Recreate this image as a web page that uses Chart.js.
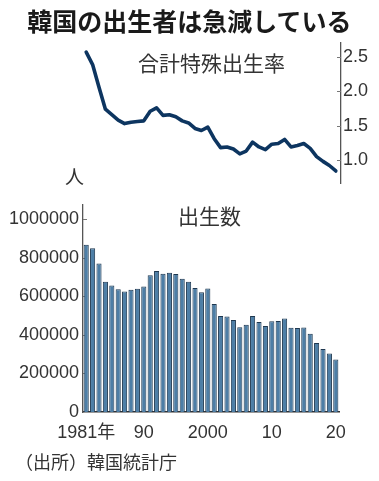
<!DOCTYPE html>
<html><head><meta charset="utf-8">
<script src="https://cdn.jsdelivr.net/npm/chart.js@4"></script>
<style>
html,body{margin:0;padding:0;background:#fff;}
#wrap{position:relative;width:379px;height:481px;overflow:hidden;background:#fff;}
canvas{position:absolute;left:0;top:0;}
.t{position:absolute;white-space:nowrap;font-family:'Noto Sans CJK JP',sans-serif;color:#333;}
</style></head>
<body><div id="wrap">
<canvas id="line" width="379" height="481"></canvas>
<canvas id="bar" width="379" height="481"></canvas>
<div class="t" style="left:0;width:379px;text-align:center;top:8px;font-size:25px;line-height:25px;font-weight:700;color:#1a1a1a;">韓国の出生者は急減している</div>
<div class="t" style="left:138px;top:52px;font-size:21px;line-height:21px;">合計特殊出生率</div>
<div class="t" style="left:65px;top:166px;font-size:19px;line-height:19px;">人</div>
<div class="t" style="left:178px;top:205px;font-size:21px;line-height:21px;">出生数</div>
<div class="t" style="left:15px;top:452px;font-size:18px;line-height:18px;">（出所）韓国統計庁</div>
</div>
<script>
const years = [1981,1982,1983,1984,1985,1986,1987,1988,1989,1990,
  1991,1992,1993,1994,1995,1996,1997,1998,1999,2000,
  2001,2002,2003,2004,2005,2006,2007,2008,2009,2010,
  2011,2012,2013,2014,2015,2016,2017,2018,2019,2020];
const births = [867000,848000,769000,675000,655000,636000,624000,633000,639000,650000,
  709000,731000,716000,721000,715000,691000,675000,642000,621000,640000,
  560000,497000,495000,477000,439000,452000,497000,466000,445000,470000,
  471000,485000,436000,435000,438000,406000,358000,327000,303000,272000];
const fertility = [2.57,2.39,2.06,1.74,1.66,1.58,1.53,1.55,1.56,1.57,
  1.71,1.76,1.65,1.66,1.63,1.57,1.54,1.46,1.43,1.48,
  1.31,1.18,1.19,1.16,1.09,1.13,1.26,1.19,1.15,1.23,
  1.24,1.30,1.19,1.21,1.24,1.17,1.05,0.98,0.92,0.84];
const xTickYears = [1981,1990,2000,2010,2020];
const xTickLabels = ['1981年','90','2000','10','20'];
const birthTicks = [0,200000,400000,600000,800000,1000000];
const fertilityTicks = [1.0,1.5,2.0,2.5];

const FONT = "'Liberation Sans','Noto Sans CJK JP',sans-serif";
const TICKFONT = {family: FONT, size: 18};

const innerTicks = {
  id: 'innerTicks',
  beforeDatasetsDraw(chart, args, opts) {
    const s = chart.scales[opts.axis];
    const ctx = chart.ctx;
    ctx.save();
    ctx.strokeStyle = opts.color;
    ctx.lineWidth = 1;
    s.ticks.forEach(t => {
      if (t.value === 0) return;
      const y = Math.round(s.getPixelForValue(t.value)) + 0.5;
      ctx.beginPath();
      if (opts.side === 'left') { ctx.moveTo(s.right, y); ctx.lineTo(s.right + opts.len, y); }
      else { ctx.moveTo(s.left, y); ctx.lineTo(s.left - opts.len, y); }
      ctx.stroke();
    });
    ctx.restore();
  }
};

new Chart(document.getElementById('line'), {
  type: 'line',
  data: {
    datasets: [{
      data: years.map((y, i) => ({x: y, y: fertility[i]})),
      borderColor: '#0d3560',
      borderWidth: 3.6,
      pointRadius: 0,
      tension: 0,
      borderJoinStyle: 'round',
      borderCapStyle: 'round',
      fill: false
    }]
  },
  options: {
    responsive: false, animation: false, devicePixelRatio: 1,
    layout: {padding: {left: 83, top: 43, bottom: 298, right: 0}},
    plugins: {legend: {display: false}, tooltip: {enabled: false},
      innerTicks: {axis: 'y', side: 'right', len: 4, color: '#777'}},
    scales: {
      x: {type: 'linear', display: false, min: 1980.5, max: 2020.8125},
      y: {
        position: 'right', min: 0.665, max: 2.704,
        afterBuildTicks: s => { s.ticks = fertilityTicks.map(v => ({value: v})); },
        afterFit: s => { s.width = 38; },
        grid: {display: false, drawTicks: false},
        border: {display: true, color: '#555', width: 1.3},
        ticks: {font: TICKFONT, color: '#333', padding: 2, callback: v => v.toFixed(1)}
      }
    }
  },
  plugins: [innerTicks]
});

new Chart(document.getElementById('bar'), {
  type: 'bar',
  data: {
    labels: years,
    datasets: [{
      data: births,
      backgroundColor: '#4d7ea6',
      borderColor: '#1f3850',
      borderWidth: 1,
      categoryPercentage: 1.0,
      barPercentage: 0.8
    }]
  },
  options: {
    responsive: false, animation: false, devicePixelRatio: 1,
    layout: {padding: {left: 0, top: 205, bottom: 39, right: 40}},
    plugins: {legend: {display: false}, tooltip: {enabled: false},
      innerTicks: {axis: 'y', side: 'left', len: 4, color: '#777'}},
    scales: {
      x: {
        afterFit: s => { s.height = 30; },
        grid: {display: false, drawTicks: false},
        border: {display: true, color: '#333', width: 1.5},
        ticks: {
          font: TICKFONT, color: '#333', padding: 10, autoSkip: false, maxRotation: 0,
          callback: (v, i) => { const k = xTickYears.indexOf(years[i]); return k >= 0 ? xTickLabels[k] : ''; }
        }
      },
      y: {
        min: 0, max: 1072500,
        afterBuildTicks: s => { s.ticks = birthTicks.map(v => ({value: v})); },
        afterFit: s => { s.width = 83; },
        grid: {display: false, drawTicks: false},
        border: {display: true, color: '#555', width: 1.3},
        ticks: {font: TICKFONT, color: '#333', padding: 4, callback: v => String(v)}
      }
    }
  },
  plugins: [innerTicks]
});
</script>
</body></html>
